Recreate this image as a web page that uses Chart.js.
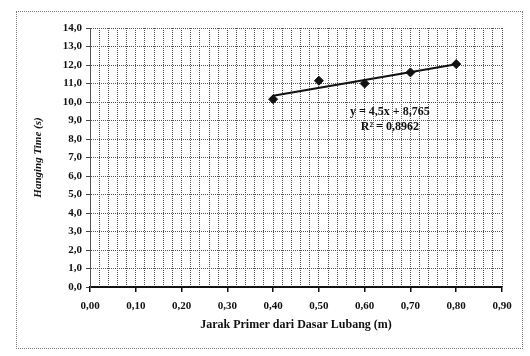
<!DOCTYPE html>
<html>
<head>
<meta charset="utf-8">
<script src="https://cdn.jsdelivr.net/npm/chart.js@4"></script>
<style>
  html, body { margin: 0; padding: 0; background: #fff; }
  #wrap { position: relative; width: 530px; height: 356px; }
  #frame { position: absolute; left: 16px; top: 11px; width: 505px; height: 336px; border: 1px dotted #777; }
  canvas { position: absolute; left: 0; top: 0; }
</style>
</head>
<body>
<div id="wrap">
  <div id="frame"></div>
  <canvas id="chart" width="530" height="356"></canvas>
</div>
<script>
const distances = [0.40, 0.50, 0.60, 0.70, 0.80];
const hangingTimes = [10.15, 11.15, 11.0, 11.6, 12.05];
const equationLabel = 'y = 4,5x + 8,765';
const r2Label = 'R² = 0,8962';

// least squares trend line through the points
const n = distances.length;
const mx = distances.reduce((a, b) => a + b, 0) / n;
const my = hangingTimes.reduce((a, b) => a + b, 0) / n;
let sxy = 0, sxx = 0;
distances.forEach((x, i) => { sxy += (x - mx) * (hangingTimes[i] - my); sxx += (x - mx) * (x - mx); });
const slope = sxy / sxx;
const intercept = my - slope * mx;
const xFirst = distances[0], xLast = distances[n - 1];
const trend = [
  { x: xFirst, y: intercept + slope * xFirst },
  { x: xLast, y: intercept + slope * xLast }
];

const serif = 'Liberation Serif';
const tickFont = { family: serif, size: 11, weight: 'bold' };

const equationText = {
  id: 'equationText',
  afterDatasetsDraw(chart) {
    const { ctx, scales } = chart;
    const px = scales.x.getPixelForValue(0.655);
    ctx.save();
    ctx.fillStyle = '#111';
    ctx.font = 'bold 12px "Liberation Serif"';
    ctx.textAlign = 'center';
    ctx.textBaseline = 'middle';
    ctx.fillText(equationLabel, px, scales.y.getPixelForValue(9.45));
    ctx.fillText(r2Label, px, scales.y.getPixelForValue(8.65));
    ctx.restore();
  }
};

new Chart(document.getElementById('chart'), {
  type: 'scatter',
  data: {
    datasets: [
      {
        data: distances.map((x, i) => ({ x: x, y: hangingTimes[i] })),
        pointStyle: 'rectRot',
        pointRadius: 4.5,
        backgroundColor: '#111',
        borderColor: '#111'
      },
      {
        type: 'line',
        data: trend,
        borderColor: '#111',
        borderWidth: 2.2,
        pointRadius: 0
      }
    ]
  },
  options: {
    responsive: false,
    animation: false,
    layout: { padding: { left: 32, right: 28, top: 28, bottom: 24 } },
    plugins: { legend: { display: false }, tooltip: { enabled: false } },
    scales: {
      x: {
        type: 'linear',
        min: 0,
        max: 0.9,
        ticks: {
          stepSize: 0.1,
          font: tickFont,
          color: '#111',
          padding: 8,
          callback: v => v.toFixed(2).replace('.', ',')
        },
        grid: { display: true, drawOnChartArea: false, drawTicks: true, tickLength: 5, color: '#111', lineWidth: 1.5 },
        border: { color: '#111', width: 2 },
        title: {
          display: true,
          text: 'Jarak Primer dari Dasar Lubang (m)',
          font: { family: serif, size: 12, weight: 'bold' },
          color: '#111',
          padding: { top: 2, bottom: 0 }
        },
        afterFit: s => { s.height = 45; }
      },
      // dense dotted vertical grid every 0.02
      xMinor: {
        type: 'linear',
        position: 'bottom',
        min: 0,
        max: 0.9,
        ticks: { display: false, stepSize: 0.02 },
        grid: { color: '#555', lineWidth: 1, drawTicks: false },
        border: { display: false, dash: [1, 1] },
        afterFit: s => { s.height = 0; }
      },
      y: {
        min: 0,
        max: 14,
        ticks: {
          stepSize: 1,
          font: tickFont,
          color: '#111',
          padding: 4,
          callback: v => v.toFixed(1).replace('.', ',')
        },
        grid: { color: '#555', lineWidth: 1, tickLength: 4, tickColor: '#444' },
        border: { color: '#555', width: 1, dash: [1, 1] },
        title: {
          display: true,
          text: 'Hanging Time (s)',
          font: { family: serif, size: 11, weight: 'bold', style: 'italic' },
          color: '#111',
          padding: { top: 0, bottom: 6 }
        },
        afterFit: s => { s.width = 58; }
      }
    }
  },
  plugins: [equationText]
});
</script>
</body>
</html>
